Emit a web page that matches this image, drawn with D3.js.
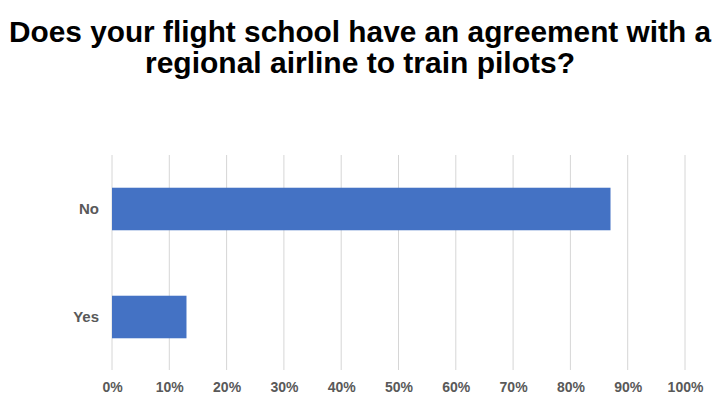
<!DOCTYPE html>
<html><head><meta charset="utf-8">
<script src="https://cdn.jsdelivr.net/npm/d3@7"></script>
<style>body{margin:0;background:#fff}</style>
</head><body>
<svg id="c" width="720" height="405"></svg>
<script>
const categories = ["No", "Yes"];
const values = [0.87, 0.13];
const ticks = [0, 0.1, 0.2, 0.3, 0.4, 0.5, 0.6, 0.7, 0.8, 0.9, 1.0];
const titleLines = ["Does your flight school have an agreement with a", "regional airline to train pilots?"];

const svg = d3.select("#c");
const x = d3.scaleLinear().domain([0, 1]).range([112, 685]);
const y = d3.scaleBand().domain(categories).range([155, 371]).paddingInner(0.606).paddingOuter(0.303);

// title
const tl = [{t: titleLines[0], y: 42.3, len: 702}, {t: titleLines[1], y: 73.3, len: 430}];
svg.selectAll("text.title").data(tl).enter().append("text")
  .attr("class", "title")
  .attr("x", 360).attr("y", d => d.y)
  .attr("text-anchor", "middle")
  .attr("font-family", "Liberation Sans, Arial, sans-serif")
  .attr("font-weight", "bold").attr("font-size", 30)
  .attr("fill", "#000")
  .attr("textLength", d => d.len).attr("lengthAdjust", "spacingAndGlyphs")
  .text(d => d.t);

// gridlines
svg.append("g").selectAll("line").data(ticks).enter().append("line")
  .attr("x1", d => x(d)).attr("x2", d => x(d))
  .attr("y1", 155).attr("y2", 370)
  .attr("stroke", "#d6d6d6").attr("stroke-width", 1);

// x axis
const xa = svg.append("g").attr("transform", "translate(0,370)")
  .call(d3.axisBottom(x).tickValues(ticks).tickFormat(d3.format(".0%")).tickSize(0).tickPadding(12));
xa.select(".domain").remove();
xa.selectAll("text").attr("font-family", "Liberation Sans, Arial, sans-serif")
  .attr("font-weight", "bold").attr("font-size", 14).attr("fill", "#595959");

// bars
svg.append("g").selectAll("rect").data(categories).enter().append("rect")
  .attr("x", x(0)).attr("y", d => y(d))
  .attr("width", (d, i) => x(values[i]) - x(0))
  .attr("height", y.bandwidth())
  .attr("fill", "#4472C4");

// y axis
const ya = svg.append("g").attr("transform", "translate(112,0)")
  .call(d3.axisLeft(y).tickSize(0).tickPadding(13));
ya.select(".domain").remove();
ya.selectAll("text").attr("font-family", "Liberation Sans, Arial, sans-serif")
  .attr("font-weight", "bold").attr("font-size", 15).attr("fill", "#595959");
</script>
</body></html>
